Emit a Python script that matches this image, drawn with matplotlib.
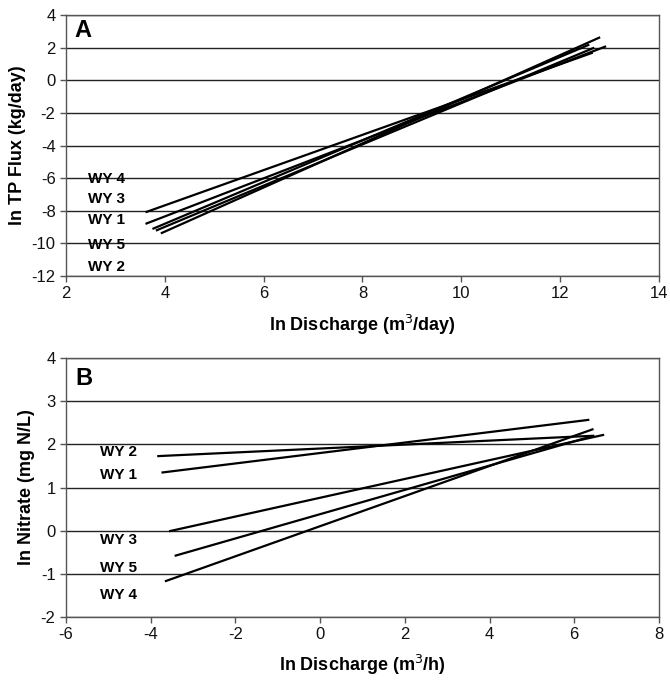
import matplotlib.pyplot as plt

plt.rcParams['font.family'] = ['Liberation Sans', 'DejaVu Sans']
plt.rcParams['axes.unicode_minus'] = False

# Panel A: ln TP flux vs ln discharge (m3/day), fitted line end points
a_years = ["WY 4", "WY 3", "WY 1", "WY 5", "WY 2"]
a_x0 = [3.63, 3.63, 3.77, 3.84, 3.94]
a_y0 = [-8.07, -8.78, -9.09, -9.19, -9.36]
a_x1 = [12.64, 12.91, 12.57, 12.67, 12.79]
a_y1 = [1.67, 2.06, 2.16, 1.97, 2.61]
a_label_x = 2.45
a_label_y = [-6.06, -7.3, -8.58, -10.1, -11.44]

# Panel B: ln nitrate vs ln discharge (m3/h)
b_years = ["WY 2", "WY 1", "WY 3", "WY 5", "WY 4"]
b_x0 = [-3.82, -3.72, -3.54, -3.41, -3.64]
b_y0 = [1.73, 1.35, -0.01, -0.58, -1.17]
b_x1 = [6.41, 6.33, 6.68, 6.45, 6.43]
b_y1 = [2.2, 2.57, 2.22, 2.2, 2.35]
b_label_x = -5.2
b_label_y = [1.83, 1.29, -0.22, -0.88, -1.5]

fig = plt.figure(figsize=(6.7, 6.82), dpi=100)
axA = fig.add_axes([0.0985, 0.5953, 0.885, 0.3827])
axB = fig.add_axes([0.0985, 0.0957, 0.885, 0.3789])


def style(ax):
    ax.grid(True, axis='y', color='#222222', linewidth=1.0)
    ax.set_axisbelow(True)
    for s in ax.spines.values():
        s.set_color('#555555')
        s.set_linewidth(1.0)
    ax.tick_params(direction='out', length=4, width=1, color='#555555',
                   labelsize=12, labelcolor='#111111')


for i in range(len(a_years)):
    axA.plot([a_x0[i], a_x1[i]], [a_y0[i], a_y1[i]], color='black', linewidth=1.6)
    axA.text(a_label_x, a_label_y[i], a_years[i], fontsize=11, fontweight='bold',
             va='center', ha='left')
axA.set_xlim(2, 14)
axA.set_ylim(-12, 4)
axA.set_xticks(range(2, 15, 2))
axA.set_yticks(range(-12, 5, 2))
axA.set_xlabel("ln Discharge (m$^3$/day)", fontsize=13, fontweight='bold', labelpad=8)
axA.set_ylabel("ln TP Flux (kg/day)", fontsize=13, fontweight='bold', labelpad=4)
axA.text(0.015, 0.94, "A", transform=axA.transAxes, fontsize=17, fontweight='bold',
         va='center', ha='left')
style(axA)

for i in range(len(b_years)):
    axB.plot([b_x0[i], b_x1[i]], [b_y0[i], b_y1[i]], color='black', linewidth=1.6)
    axB.text(b_label_x, b_label_y[i], b_years[i], fontsize=11, fontweight='bold',
             va='center', ha='left')
axB.set_xlim(-6, 8)
axB.set_ylim(-2, 4)
axB.set_xticks(range(-6, 9, 2))
axB.set_yticks(range(-2, 5, 1))
axB.set_xlabel("ln Discharge (m$^3$/h)", fontsize=13, fontweight='bold', labelpad=8)
axB.set_ylabel("ln Nitrate (mg N/L)", fontsize=13, fontweight='bold', labelpad=4)
axB.text(0.015, 0.92, "B", transform=axB.transAxes, fontsize=17, fontweight='bold',
         va='center', ha='left')
style(axB)

fig.savefig("out.png", dpi=100)
